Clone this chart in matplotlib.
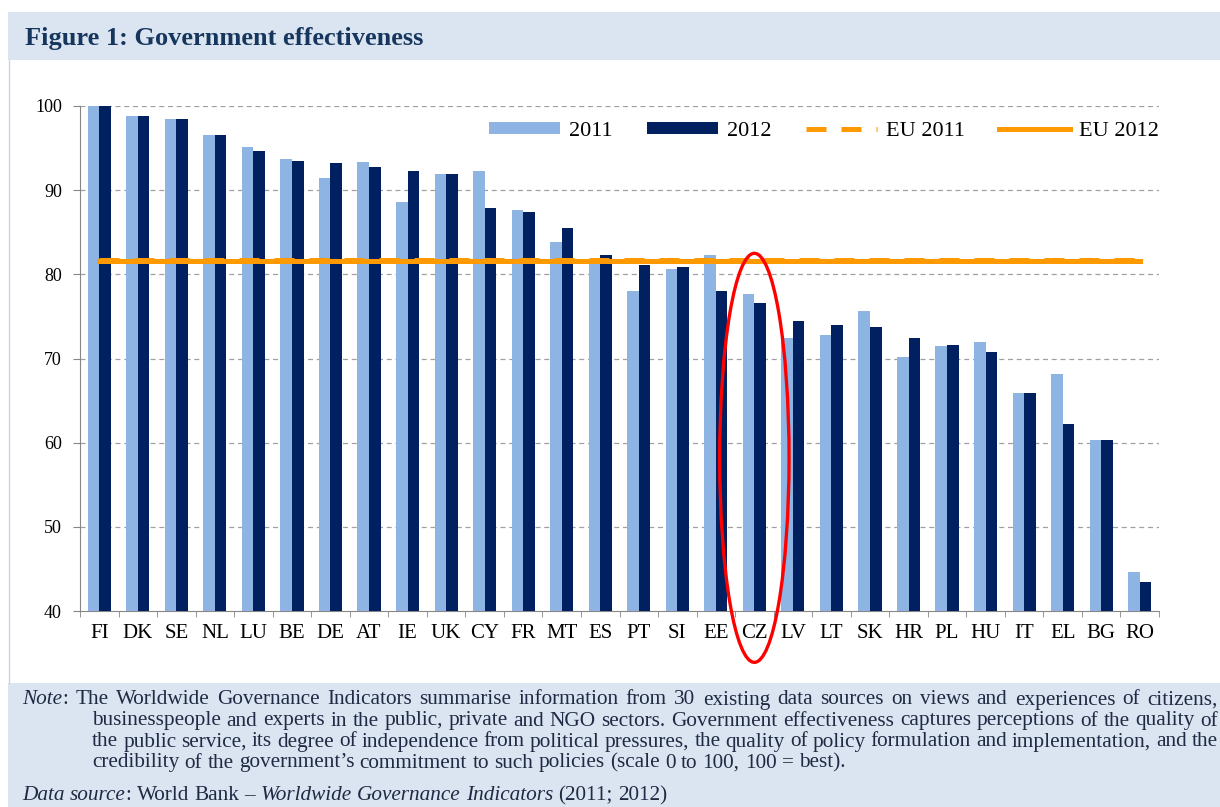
import numpy as np
import matplotlib
matplotlib.use("Agg")
import matplotlib.pyplot as plt
from matplotlib.patches import Patch, Rectangle, Ellipse
from matplotlib.lines import Line2D
from matplotlib.transforms import IdentityTransform

countries = ["FI", "DK", "SE", "NL", "LU", "BE", "DE", "AT", "IE", "UK", "CY", "FR", "MT", "ES",
             "PT", "SI", "EE", "CZ", "LV", "LT", "SK", "HR", "PL", "HU", "IT", "EL", "BG", "RO"]
values_2011 = [100, 98.8, 98.5, 96.6, 95.1, 93.7, 91.4, 93.4, 88.6, 91.9, 92.3, 87.6, 83.8, 81.7,
               78.0, 80.6, 82.3, 77.7, 72.4, 72.8, 75.7, 70.2, 71.5, 72.0, 65.9, 68.2, 60.3, 44.6]
values_2012 = [100, 98.8, 98.4, 96.5, 94.7, 93.5, 93.2, 92.7, 92.3, 91.9, 87.9, 87.4, 85.5, 82.3,
               81.1, 80.9, 78.0, 76.6, 74.5, 74.0, 73.7, 72.4, 71.6, 70.8, 65.9, 62.2, 60.3, 43.5]
eu_2011 = 81.75
eu_2012 = 81.6
y_ticks = [40, 50, 60, 70, 80, 90, 100]

title = "Figure 1: Government effectiveness"
note_lines = [
    ([("Note", "italic"), (": The Worldwide Governance Indicators summarise information from 30 existing "
                            "data sources on views and experiences of citizens,", "normal")], 22, True),
    ([("businesspeople and experts in the public, private and NGO sectors. Government effectiveness "
       "captures perceptions of the quality of", "normal")], 92, True),
    ([("the public service, its degree of independence from political pressures, the quality of policy "
       "formulation and implementation, and the", "normal")], 92, True),
    ([("credibility of the government\u2019s commitment to such policies (scale 0 to 100, 100 = best).",
       "normal")], 92, False),
    ([("Data source", "italic"), (": World Bank \u2013 ", "normal"),
      ("Worldwide Governance Indicators", "italic"), (" (2011; 2012)", "normal")], 22, False),
]

LIGHT = "#8EB4E3"
DARK = "#002060"
ORANGE = "#FF9900"
BAND = "#DBE5F1"
NAVY = "#17365D"
SERIF = "Liberation Serif"

W, H = 1220, 807
fig = plt.figure(figsize=(W / 100, H / 100), dpi=100)
fig.patch.set_facecolor("white")

# header and note bands
fig.patches.append(Rectangle((8 / W, 1 - 60 / H), 1 - 8 / W, 48 / H, transform=fig.transFigure,
                             facecolor=BAND, edgecolor="none", zorder=0))
fig.patches.append(Rectangle((8 / W, 0), 1 - 8 / W, 1 - 683 / H, transform=fig.transFigure,
                             facecolor=BAND, edgecolor="none", zorder=0))
fig.lines.append(Line2D([9 / W, 9 / W], [1 - 683 / H, 1 - 60 / H], transform=fig.transFigure,
                        color="#C9D5E5", lw=1))
fig.text(25 / W, 1 - 38 / H, title, fontsize=19, fontweight="bold", family=SERIF,
         color=NAVY, va="center", ha="left")

ax = fig.add_axes([80 / W, 1 - 611 / H, (1159 - 80) / W, (611 - 106) / H])
x = np.arange(len(countries))
bw = 0.3
ax.bar(x - bw / 2, values_2011, bw, color=LIGHT, zorder=3)
ax.bar(x + bw / 2, values_2012, bw, color=DARK, zorder=3)
ax.plot(x, [eu_2011] * len(x), color=ORANGE, lw=3.6, ls=(0, (4, 3)), zorder=4)
ax.plot(x, [eu_2012] * len(x), color=ORANGE, lw=3.6, zorder=4)

ax.set_xlim(-0.5, len(countries) - 0.5)
ax.set_ylim(40, 100)
ax.set_yticks(y_ticks)
ax.set_yticklabels([str(t) for t in y_ticks], family=SERIF, fontsize=13)
ax.set_xticks(x)
ax.set_xticklabels(countries, family=SERIF, fontsize=15)
ax.set_xticks(np.arange(len(countries) + 1) - 0.5, minor=True)
ax.tick_params(axis="x", which="major", length=0, pad=9)
ax.tick_params(axis="x", which="minor", length=4, color="#868686", direction="out")
ax.tick_params(axis="y", length=5, color="#868686", direction="out", pad=8)
for side in ["top", "right"]:
    ax.spines[side].set_visible(False)
for side in ["left", "bottom"]:
    ax.spines[side].set_color("#868686")
for t in y_ticks[1:]:
    ax.axhline(t, color="#A0A0A0", lw=0.9, ls=(0, (4, 3)), zorder=1)

# red ellipse around CZ
cz = countries.index("CZ")
ax.add_patch(Ellipse((cz, 58.2), 1.8, 48.6, fill=False, edgecolor="red", lw=2.4,
                     clip_on=False, zorder=6))

handles = [Patch(facecolor=LIGHT), Patch(facecolor=DARK),
           Line2D([], [], color=ORANGE, lw=3.6, ls=(0, (4, 3))),
           Line2D([], [], color=ORANGE, lw=3.6)]
leg = ax.legend(handles, ["2011", "2012", "EU 2011", "EU 2012"], ncol=4, loc="center right",
                bbox_to_anchor=(1.0, 0.95), frameon=False, borderpad=0, borderaxespad=0,
                handlelength=3.2, handleheight=0.45, handletextpad=0.4, columnspacing=1.55,
                prop={"family": SERIF, "size": 16})

# note text, justified like the source
renderer = fig.canvas.get_renderer()
note_size = 15.3
line_y = [700, 721, 742, 763, 796]
x_right = 1218
for (segments, x0, justify), yy in zip(note_lines, line_y):
    words = [[]]
    for text, style in segments:
        parts = text.split(" ")
        if parts[0]:
            words[-1].append((parts[0], style))
        for p in parts[1:]:
            words.append([(p, style)] if p else [])
    words = [w for w in words if w]
    objs = []
    widths = []
    for w in words:
        items = []
        total = 0
        for chunk, style in w:
            t = fig.text(0, H - yy, chunk, fontsize=note_size, style=style, family=SERIF,
                         color="#1F2A44", va="center", ha="left", transform=IdentityTransform())
            cw = t.get_window_extent(renderer).width
            items.append((t, cw))
            total += cw
        objs.append(items)
        widths.append(total)
    space = note_size * 100 / 72 * 0.25
    if justify and len(words) > 1:
        space = max((x_right - x0 - sum(widths)) / (len(words) - 1), 2)
    cur = x0
    for items, ww in zip(objs, widths):
        xx = cur
        for t, cw in items:
            t.set_x(xx)
            xx += cw
        cur += ww + space

fig.savefig("out.png", dpi=100)
